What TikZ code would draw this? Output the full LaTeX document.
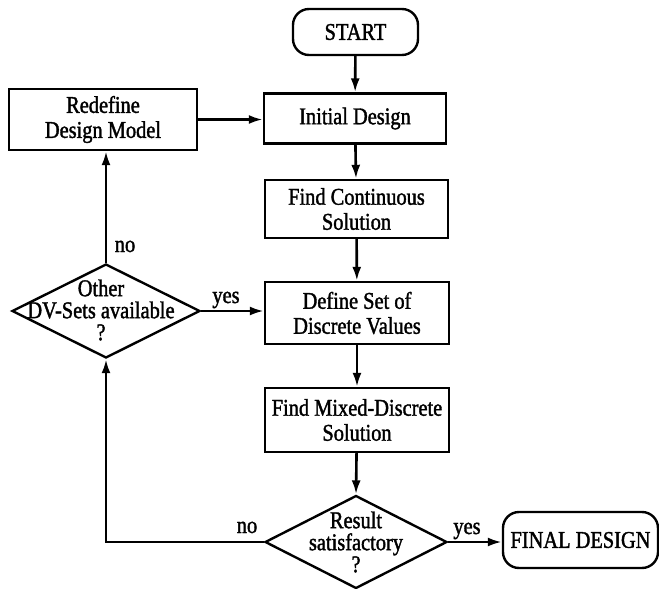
\documentclass[tikz,border=0pt]{standalone}
\usepackage{fontspec}
\setmainfont{Liberation Serif}[FakeStretch=0.85,FakeBold=1.5]
\usetikzlibrary{shapes.geometric,arrows.meta}
\begin{document}
\begin{tikzpicture}[x=1pt,y=-1pt,
  every node/.style={font=\fontsize{24}{25}\selectfont},
  stepbox/.style={draw,line width=2.4pt,align=center,inner sep=0pt},
  termbox/.style={stepbox,rounded corners=16pt},
  dia/.style={draw,diamond,line width=2.4pt,inner sep=0pt},
  diatext/.style={align=center,font=\fontsize{24}{22}\selectfont},
  lab/.style={inner sep=0pt,anchor=base},
  arr/.style={-{Latex[length=14pt,width=9pt]},line width=2.6pt}]
\useasboundingbox (0,0) rectangle (659,589);
\node[termbox,minimum width=125pt,minimum height=46pt] (start) at (355.5,32) {START};
\node[stepbox,minimum width=182pt,minimum height=50pt] (init) at (355,118.5) {Initial Design};
\node[stepbox,minimum width=188pt,minimum height=61pt] (redef) at (103,119.5) {Redefine\\Design Model};
\node[stepbox,minimum width=183pt,minimum height=58pt] (cont) at (356.5,209) {Find Continuous\\Solution};
\node[stepbox,minimum width=184pt,minimum height=62pt] (define) at (357,313) {Define Set of\\Discrete Values};
\node[stepbox,minimum width=184pt,minimum height=64pt] (mixed) at (357,420) {Find Mixed-Discrete\\Solution};
\node[dia,minimum width=182pt,minimum height=93pt] (result) at (356,542) {};
\node[diatext] (resultt) at (result) {Result\\satisfactory\\?};
\node[dia,minimum width=188pt,minimum height=94pt] (other) at (106,311) {};
\node[diatext] (othert) at (101,310) {Other\\DV-Sets available\\?};
\node[termbox,minimum width=155pt,minimum height=56pt] (final) at (580.5,540) {FINAL DESIGN};
\coordinate (corner) at (other.south |- result.west);
\draw[arr] (start) -- (init);
\draw[arr] (init) -- (cont);
\draw[arr] (cont) -- (define);
\draw[arr] (define) -- (mixed);
\draw[arr] (mixed) -- (result.north);
\draw[arr] (redef.east) -- (init.west |- redef.east);
\draw[arr] (other.north) -- (other.north |- redef.south);
\draw[arr] (other.east) -- (other.east -| define.west);
\draw[arr] (result.west) -- (corner) -- (other.south);
\draw[arr] (result.east) -- (final.west |- result.east);
\node[lab] (no1) at (125,252) {no};
\node[lab] (yes1) at (226,303) {yes};
\node[lab] (no2) at (247,533) {no};
\node[lab] (yes2) at (467,534) {yes};
\end{tikzpicture}
\end{document}
